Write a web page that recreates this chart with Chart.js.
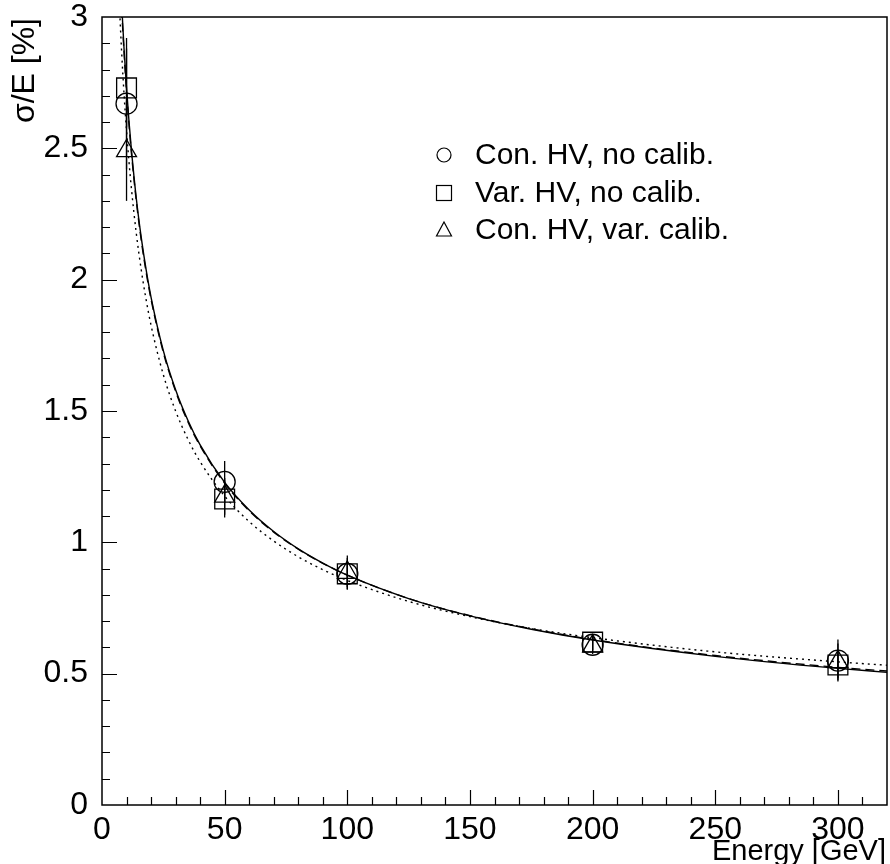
<!DOCTYPE html>
<html>
<head>
<meta charset="utf-8">
<script src="https://cdn.jsdelivr.net/npm/chart.js"></script>
<style>
  html, body { margin: 0; padding: 0; background: #fff; }
</style>
</head>
<body>
<canvas id="resol" width="890" height="864"></canvas>
<script>
// measured points (beam energy in GeV, sigma/E in %)
const energies = [10, 50, 100, 200, 300];
const conNoCalib = [2.67, 1.23, 0.88, 0.61, 0.55];
const conNoCalibErr = [0.25, 0.08, 0.06, 0.03, 0.08];
const varNoCalib = [2.73, 1.165, 0.88, 0.62, 0.533];
const varNoCalibErr = [0.15, 0.07, 0.05, 0.03, 0.05];
const conVarCalib = [2.49, 1.175, 0.885, 0.605, 0.545];
const conVarCalibErr = [0.19, 0.07, 0.065, 0.03, 0.07];

// fitted curves
const curveE = [7, 8, 9, 10, 11, 12, 14, 16, 18, 20, 25, 30, 35, 40, 50, 60, 70, 80, 90, 100, 125, 150, 175, 200, 250, 300, 320];
const fitSolid = [3.261, 3.051, 2.877, 2.730, 2.603, 2.493, 2.308, 2.160, 2.037, 1.933, 1.730, 1.581, 1.465, 1.371, 1.228, 1.123, 1.041, 0.975, 0.921, 0.875, 0.786, 0.720, 0.669, 0.628, 0.566, 0.520, 0.505];
const fitDashed = [3.245, 3.036, 2.863, 2.717, 2.591, 2.481, 2.298, 2.150, 2.028, 1.925, 1.723, 1.575, 1.459, 1.367, 1.225, 1.120, 1.039, 0.974, 0.920, 0.875, 0.786, 0.721, 0.671, 0.630, 0.569, 0.524, 0.510];
const fitDotted = [3.063, 2.867, 2.704, 2.567, 2.449, 2.346, 2.175, 2.037, 1.923, 1.826, 1.638, 1.500, 1.393, 1.307, 1.176, 1.079, 1.005, 0.945, 0.896, 0.855, 0.775, 0.717, 0.672, 0.637, 0.583, 0.545, 0.532];

const legendLabels = ['Con. HV, no calib.', 'Var. HV, no calib.', 'Con. HV, var. calib.'];
const xTitle = 'Energy [GeV]';
const yTitle = 'σ/E [%]';

const FONT = "'Liberation Sans', Arial, sans-serif";
const TICKFONT = "'Liberation Sans Narrow', 'Liberation Sans', sans-serif";

function pts(xs, ys) {
  return xs.map((x, i) => ({ x: x, y: ys[i] }));
}

function markerSet(label, ys, style, r) {
  return {
    label: label,
    data: pts(energies, ys),
    showLine: false,
    pointStyle: style,
    pointRadius: r,
    pointBorderWidth: 1.3,
    pointBorderColor: '#000',
    pointBackgroundColor: 'rgba(0,0,0,0)',
    clip: false
  };
}

function curveSet(ys, dash) {
  return {
    data: pts(curveE, ys),
    showLine: true,
    borderColor: '#000',
    borderWidth: 1.4,
    borderDash: dash,
    pointRadius: 0,
    cubicInterpolationMode: 'monotone',
    clip: 0
  };
}

// no auto padding from tick labels, the frame is placed by hand
function fixBox(size, horizontal) {
  return s => {
    if (horizontal) s.height = size; else s.width = size;
    s.paddingTop = 0; s.paddingBottom = 0;
    s.paddingLeft = 0; s.paddingRight = 0;
  };
}

const errorSets = [
  [conNoCalib, conNoCalibErr],
  [varNoCalib, varNoCalibErr],
  [conVarCalib, conVarCalibErr]
];

const frame = {
  id: 'frame',
  beforeDatasetsDraw(chart) {
    const { ctx, scales: { x, y } } = chart;
    ctx.save();
    ctx.strokeStyle = '#000';
    ctx.lineWidth = 1.3;
    errorSets.forEach(([vals, errs]) => {
      energies.forEach((e, i) => {
        const px = x.getPixelForValue(e);
        ctx.beginPath();
        ctx.moveTo(px, y.getPixelForValue(vals[i] - errs[i]));
        ctx.lineTo(px, y.getPixelForValue(vals[i] + errs[i]));
        ctx.stroke();
      });
    });
    ctx.restore();
  },
  afterDraw(chart) {
    const { ctx, chartArea: a, scales: { x, y } } = chart;
    ctx.save();
    ctx.strokeStyle = '#000';
    ctx.lineWidth = 1.5;
    ctx.strokeRect(a.left, a.top, a.right - a.left, a.bottom - a.top);

    // inward ticks on bottom and left
    ctx.lineWidth = 1.2;
    ctx.beginPath();
    for (let v = 10; v < x.max; v += 10) {
      const px = Math.round(x.getPixelForValue(v)) + 0.5;
      const len = v % 50 === 0 ? 15 : 8;
      ctx.moveTo(px, a.bottom);
      ctx.lineTo(px, a.bottom - len);
    }
    for (let k = 1; k < 30; k++) {
      const py = Math.round(y.getPixelForValue(k / 10)) + 0.5;
      const len = k % 5 === 0 ? 15 : 8;
      ctx.moveTo(a.left, py);
      ctx.lineTo(a.left + len, py);
    }
    ctx.stroke();

    // axis titles
    ctx.fillStyle = '#000';
    ctx.font = '29px ' + FONT;
    ctx.textAlign = 'right';
    ctx.textBaseline = 'alphabetic';
    ctx.fillText(xTitle, 886, 860);
    ctx.save();
    ctx.font = '32px ' + FONT;
    ctx.translate(34, 18);
    ctx.rotate(-Math.PI / 2);
    ctx.fillText(yTitle, 0, 0);
    ctx.restore();

    // legend inside the frame
    const rows = [155, 193, 230];
    const sx = 444;
    ctx.lineWidth = 1.2;
    ctx.beginPath();
    ctx.arc(sx, rows[0], 7, 0, Math.PI * 2);
    ctx.stroke();
    ctx.strokeRect(sx - 7.5, rows[1] - 7.5, 15, 15);
    ctx.beginPath();
    ctx.moveTo(sx, rows[2] - 8);
    ctx.lineTo(sx + 7.5, rows[2] + 6);
    ctx.lineTo(sx - 7.5, rows[2] + 6);
    ctx.closePath();
    ctx.stroke();
    ctx.font = '30px ' + FONT;
    ctx.textAlign = 'left';
    ctx.textBaseline = 'middle';
    legendLabels.forEach((t, i) => ctx.fillText(t, 475, rows[i] + 1));
    ctx.restore();
  }
};

new Chart(document.getElementById('resol'), {
  type: 'scatter',
  data: {
    datasets: [
      curveSet(fitSolid, []),
      curveSet(fitDashed, [9, 5]),
      curveSet(fitDotted, [2, 4]),
      markerSet(legendLabels[0], conNoCalib, 'circle', 10.5),
      markerSet(legendLabels[1], varNoCalib, 'rect', 14),
      markerSet(legendLabels[2], conVarCalib, 'triangle', 11.5)
    ]
  },
  options: {
    responsive: false,
    animation: false,
    layout: { autoPadding: false, padding: { left: 0, top: 17, right: 3, bottom: 0 } },
    plugins: { legend: { display: false }, tooltip: { enabled: false } },
    scales: {
      x: {
        type: 'linear',
        min: 0,
        max: 320,
        afterFit: fixBox(59, true),
        grid: { display: false, drawTicks: false },
        border: { display: false },
        ticks: {
          stepSize: 50,
          includeBounds: false,
          padding: 6,
          maxRotation: 0,
          color: '#000',
          font: { family: TICKFONT, size: 32 }
        }
      },
      y: {
        min: 0,
        max: 3,
        afterFit: fixBox(102, false),
        grid: { display: false, drawTicks: false },
        border: { display: false },
        ticks: {
          stepSize: 0.5,
          padding: 14,
          color: '#000',
          font: { family: TICKFONT, size: 32 },
          callback: v => String(v)
        }
      }
    }
  },
  plugins: [frame]
});
</script>
</body>
</html>
